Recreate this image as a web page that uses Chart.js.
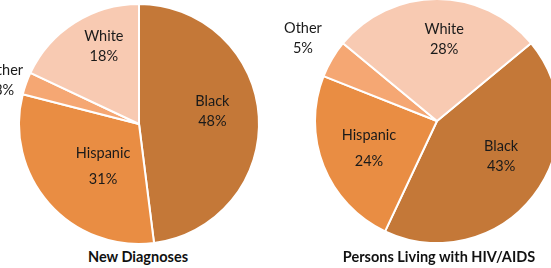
<!DOCTYPE html>
<html>
<head>
<meta charset="utf-8">
<script src="https://cdn.jsdelivr.net/npm/chart.js@4"></script>
<style>
  html, body { margin: 0; padding: 0; background: #fff; }
  body { width: 551px; height: 268px; position: relative; overflow: hidden; font-family: Lato, "Open Sans", sans-serif; }
  .pie { position: absolute; }
  .caption { position: absolute; top: 248px; font-weight: bold; font-size: 14.5px; color: #111; text-align: center; white-space: nowrap; }
</style>
</head>
<body>
<div class="pie" style="left:0; top:0; width:278px; height:248px;"><canvas id="newDx"></canvas></div>
<div class="pie" style="left:276px; top:0; width:322px; height:242px;"><canvas id="living"></canvas></div>
<div class="caption" style="left:40px; width:196px;">New Diagnoses</div>
<div class="caption" style="left:329px; width:220px;">Persons Living with HIV/AIDS</div>

<script>
// ── Data ──────────────────────────────────────
const categories = ['Black', 'Hispanic', 'Other', 'White'];
const newDiagnoses = [48, 31, 3, 18];
const personsLiving = [43, 24, 5, 28];

const sliceColors = ['#C47838', '#E98D43', '#F5A773', '#F8CAB2'];

// label placement hints: radius as share of pie radius, angle nudge in degrees
const newDxLabelPos = [
    { r: 0.62, da: -6 }, { r: 0.46, da: -8 }, { r: 1.18, da: -2 }, { r: 0.71, da: 8 }
];
const livingLabelPos = [
    { r: 0.60, da: -9 }, { r: 0.60, da: 0 }, { r: 1.29, da: 1 }, { r: 0.67, da: 5 }
];

// ── Inline label plugin ───────────────────────
const sliceLabels = {
    id: 'sliceLabels',
    afterDatasetsDraw(chart, args, opts) {
        const { ctx } = chart;
        const meta = chart.getDatasetMeta(0);
        const values = chart.data.datasets[0].data;
        ctx.save();
        ctx.font = '14.5px Lato, "Open Sans", sans-serif';
        ctx.fillStyle = '#1a1a1a';
        ctx.textAlign = 'center';
        ctx.textBaseline = 'middle';
        meta.data.forEach((arc, i) => {
            const p = arc.getProps(['x', 'y', 'startAngle', 'endAngle', 'outerRadius'], true);
            const hint = opts.pos[i];
            const mid = (p.startAngle + p.endAngle) / 2 + hint.da * Math.PI / 180;
            const r = p.outerRadius * hint.r;
            const cx = p.x + Math.cos(mid) * r;
            const cy = p.y + Math.sin(mid) * r;
            const gap = (opts.gaps && opts.gaps[i]) || 20;
            ctx.fillText(chart.data.labels[i], cx, cy - gap / 2);
            ctx.fillText(values[i] + '%', cx, cy + gap / 2);
        });
        ctx.restore();
    }
};

function makePie(canvasId, values, rotation, radius, pos, gaps) {
    return new Chart(document.getElementById(canvasId), {
        type: 'pie',
        data: {
            labels: categories,
            datasets: [{
                data: values,
                backgroundColor: sliceColors,
                borderColor: '#ffffff',
                borderWidth: 2,
                clip: false
            }]
        },
        options: {
            responsive: true,
            maintainAspectRatio: false,
            animation: false,
            rotation: rotation,
            radius: radius,
            layout: { padding: 0 },
            events: [],
            plugins: {
                legend: { display: false },
                tooltip: { enabled: false },
                sliceLabels: { pos: pos, gaps: gaps }
            }
        },
        plugins: [sliceLabels]
    });
}

makePie('newDx', newDiagnoses, 0, 120, newDxLabelPos, [20, 26, 20, 20]);
makePie('living', personsLiving, 50.4, 122, livingLabelPos, [20, 26, 20, 20]);
</script>
</body>
</html>
